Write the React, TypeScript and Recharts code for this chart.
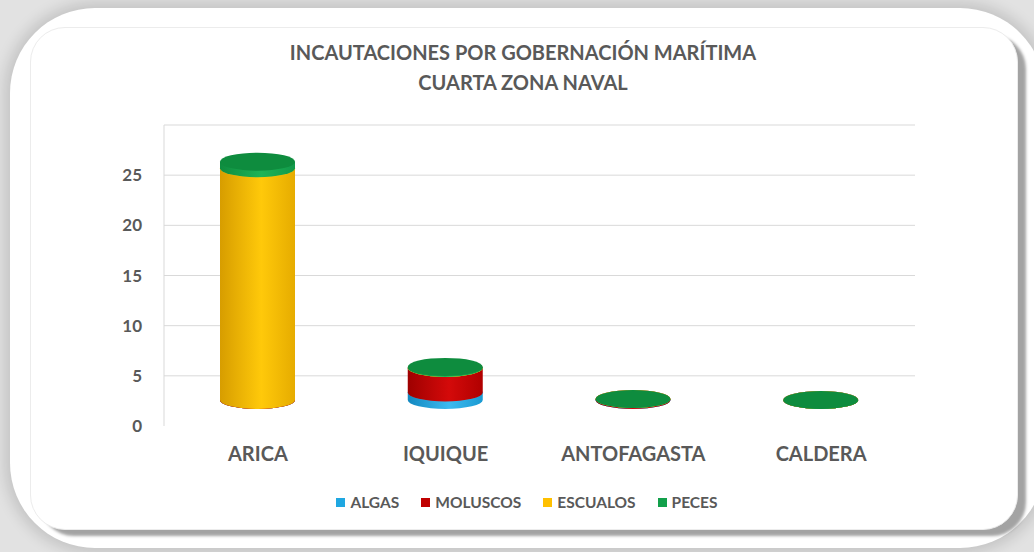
import { BarChart, Bar, XAxis, YAxis, CartesianGrid, Legend } from 'recharts';

const categories = ['ARICA', 'IQUIQUE', 'ANTOFAGASTA', 'CALDERA'];
const algas = [0, 0.75, 0, 0];
const moluscos = [0, 2.45, 0.1, 0];
const escualos = [23.1, 0, 0, 0];
const peces = [0.65, 0.1, 0, 0];
const yTicks = [0, 5, 10, 15, 20, 25, 30];

const series = [
  { key: 'ALGAS', values: algas, legend: '#1fa7e1', grad: 'gBlue', top: '#3bb6ea' },
  { key: 'MOLUSCOS', values: moluscos, legend: '#c00000', grad: 'gRed', top: '#d01010' },
  { key: 'ESCUALOS', values: escualos, legend: '#ffc000', grad: 'gYellow', top: '#ffcc22' },
  { key: 'PECES', values: peces, legend: '#12a04b', grad: 'gGreen', top: '#0e8c3e' },
];

const data = categories.map((name, i) => {
  const row: Record<string, string | number> = { name };
  series.forEach((s) => (row[s.key] = s.values[i]));
  return row;
});

const FONT = "Lato, 'Open Sans', sans-serif";
const TEXT = '#595959';
const SHIFT = -26; // cylinders sit a bit above the back-wall zero line
const RY = 9;

function cylinder(grad: string, top: string) {
  return (p: any) => {
    const { x, y, width: w, height: h } = p;
    if (x == null || y == null) return <g />;
    const y1 = y + SHIFT;
    const y2 = y + Math.max(0, h) + SHIFT;
    const rx = w / 2;
    const d = `M${x},${y1} L${x},${y2} A${rx},${RY} 0 0 0 ${x + w},${y2} L${x + w},${y1} Z`;
    return (
      <g>
        <path d={d} fill={`url(#${grad})`} />
        <ellipse cx={x + rx} cy={y1} rx={rx} ry={RY} fill={top} />
      </g>
    );
  };
}

function LegendBox() {
  return (
    <div
      style={{
        display: 'flex',
        justifyContent: 'center',
        gap: 22,
        paddingLeft: 15,
        fontFamily: FONT,
        fontWeight: 700,
        fontSize: 15.5,
        color: TEXT,
        lineHeight: '20px',
      }}
    >
      {series.map((s) => (
        <span key={s.key} style={{ display: 'flex', alignItems: 'center' }}>
          <span style={{ width: 9, height: 9, background: s.legend, marginRight: 5 }} />
          {s.key}
        </span>
      ))}
    </div>
  );
}

export default function App() {
  return (
    <div
      style={{
        position: 'absolute',
        left: 0,
        top: 0,
        width: 1034,
        height: 552,
        overflow: 'hidden',
        background: '#e2e2e2',
      }}
    >
      <div
        style={{
          position: 'absolute',
          left: 10,
          top: 8,
          width: 1035,
          height: 540,
          borderRadius: 85,
          background: '#fff',
          boxShadow: '0 0 14px 6px rgba(0,0,0,0.13)',
        }}
      />
      <div
        style={{
          position: 'absolute',
          left: 30,
          top: 27,
          width: 986,
          height: 501,
          borderRadius: 35,
          background: '#fff',
          border: '1px solid #ececec',
          boxShadow: '9px 7px 3px -1px rgba(0,0,0,0.36)',
        }}
      />
      <div
        style={{
          position: 'absolute',
          left: 0,
          top: 37,
          width: 1046,
          textAlign: 'center',
          fontFamily: FONT,
          fontWeight: 700,
          fontSize: 20,
          lineHeight: '30px',
          color: TEXT,
        }}
      >
        INCAUTACIONES POR GOBERNACIÓN MARÍTIMA
        <br />
        CUARTA ZONA NAVAL
      </div>
      <div style={{ position: 'absolute', left: 0, top: 0 }}>
        <BarChart
          width={1034}
          height={552}
          data={data}
          margin={{ top: 125, right: 119, bottom: 40, left: 124 }}
          barSize={75}
        >
          <defs>
            <linearGradient id="gBlue" x1="0" y1="0" x2="1" y2="0">
              <stop offset="0" stopColor="#1288c0" />
              <stop offset="0.55" stopColor="#3cbaf0" />
              <stop offset="1" stopColor="#1a9ad2" />
            </linearGradient>
            <linearGradient id="gRed" x1="0" y1="0" x2="1" y2="0">
              <stop offset="0" stopColor="#9e0000" />
              <stop offset="0.55" stopColor="#d40a0a" />
              <stop offset="1" stopColor="#b00000" />
            </linearGradient>
            <linearGradient id="gYellow" x1="0" y1="0" x2="1" y2="0">
              <stop offset="0" stopColor="#d79d00" />
              <stop offset="0.55" stopColor="#ffc90a" />
              <stop offset="1" stopColor="#e6ac00" />
            </linearGradient>
            <linearGradient id="gGreen" x1="0" y1="0" x2="1" y2="0">
              <stop offset="0" stopColor="#0f8c3f" />
              <stop offset="0.55" stopColor="#1db457" />
              <stop offset="1" stopColor="#12994a" />
            </linearGradient>
          </defs>
          <CartesianGrid
            vertical={false}
            stroke="#d9d9d9"
            horizontalValues={[5, 10, 15, 20, 25, 30]}
          />
          <XAxis
            dataKey="name"
            axisLine={false}
            tickLine={false}
            height={66}
            tickMargin={15}
            tick={{ fill: TEXT, fontSize: 20, fontWeight: 700, fontFamily: FONT }}
          />
          <YAxis
            domain={[0, 30]}
            ticks={yTicks}
            width={40}
            axisLine={{ stroke: '#d9d9d9' }}
            tickLine={false}
            tickMargin={16}
            tickFormatter={(v: number) => (v === 30 ? '' : String(v))}
            tick={{ fill: TEXT, fontSize: 17, fontWeight: 700, fontFamily: FONT }}
          />
          <Legend verticalAlign="bottom" height={20} content={() => <LegendBox />} />
          {series.map((s) => (
            <Bar
              key={s.key}
              dataKey={s.key}
              stackId="a"
              fill={s.legend}
              isAnimationActive={false}
              shape={cylinder(s.grad, s.top)}
            />
          ))}
        </BarChart>
      </div>
    </div>
  );
}
